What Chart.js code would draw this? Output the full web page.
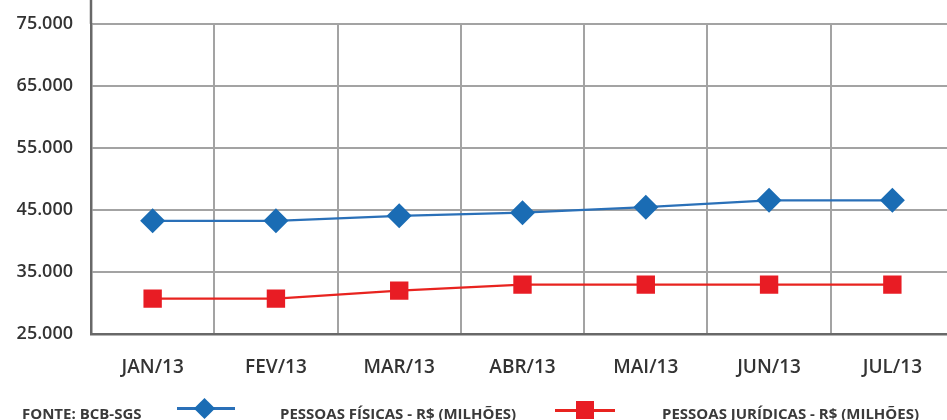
<!DOCTYPE html>
<html>
<head>
<meta charset="utf-8">
<script src="https://cdn.jsdelivr.net/npm/chart.js@4/dist/chart.umd.min.js"></script>
<style>
  html, body { margin: 0; padding: 0; background: #fff; overflow: hidden; width: 947px; height: 420px; }
  #wrap { position: absolute; left: 0; top: -5px; width: 967px; height: 425px; }
  .leg { position: absolute; top: 403px; line-height: 20px; font-family: 'Open Sans', sans-serif; font-weight: 700; font-size: 15px; color: #3a3a3a; white-space: nowrap; }
  .ln { position: absolute; height: 3px; }
  .mk { position: absolute; }
</style>
</head>
<body>
<div id="wrap"><canvas id="c" width="967" height="425"></canvas></div>

<span class="leg" id="fonte" style="left:22px"></span>
<div class="ln" style="left:177px; top:407px; width:58px; background:#2a70b8"></div>
<div class="mk" style="left:197px; top:401px; width:15px; height:15px; background:#1a6cb4; transform:rotate(45deg)"></div>
<span class="leg" id="leg0" style="left:280px"></span>
<div class="ln" style="left:555px; top:409px; width:60px; background:#e8231f"></div>
<div class="mk" style="left:576px; top:401px; width:18px; height:18px; background:#e81c24"></div>
<span class="leg" id="leg1" style="left:662px"></span>

<script>
// Monthly credit balances, R$ millions
const categories = ['JAN/13', 'FEV/13', 'MAR/13', 'ABR/13', 'MAI/13', 'JUN/13', 'JUL/13'];
const pessoasFisicas = [43250, 43250, 44050, 44550, 45450, 46550, 46550];
const pessoasJuridicas = [30700, 30700, 32000, 32950, 32950, 32950, 32950];
const yTickValues = [25000, 35000, 45000, 55000, 65000, 75000];
const yTickLabels = ['25.000', '35.000', '45.000', '55.000', '65.000', '75.000'];
const seriesLabels = ['PESSOAS FÍSICAS - R$ (MILHÕES)', 'PESSOAS JURÍDICAS - R$ (MILHÕES)'];
const sourceNote = 'FONTE: BCB-SGS';

document.getElementById('fonte').textContent = sourceNote;
document.getElementById('leg0').textContent = seriesLabels[0];
document.getElementById('leg1').textContent = seriesLabels[1];

// y axis line continues above the plot area
const axisExtension = {
  id: 'axisExtension',
  afterDraw(chart) {
    const ctx = chart.ctx, a = chart.chartArea;
    ctx.save();
    ctx.strokeStyle = '#686868';
    ctx.lineWidth = 2.5;
    ctx.beginPath();
    ctx.moveTo(a.left, 0);
    ctx.lineTo(a.left, a.top);
    ctx.stroke();
    ctx.restore();
  }
};

new Chart(document.getElementById('c'), {
  type: 'line',
  data: {
    labels: categories,
    datasets: [
      {
        label: seriesLabels[0],
        data: pessoasFisicas,
        borderColor: '#2a70b8',
        backgroundColor: '#1a6cb4',
        borderWidth: 2.2,
        pointStyle: 'rectRot',
        pointRadius: 12.5,
        pointBorderWidth: 0,
        pointBackgroundColor: '#1a6cb4',
        tension: 0
      },
      {
        label: seriesLabels[1],
        data: pessoasJuridicas,
        borderColor: '#e8231f',
        backgroundColor: '#e81c24',
        borderWidth: 2.2,
        pointStyle: 'rect',
        pointRadius: 13,
        pointBorderWidth: 0,
        pointBackgroundColor: '#e81c24',
        tension: 0
      }
    ]
  },
  options: {
    responsive: false,
    animation: false,
    layout: { padding: { top: 17, right: 0, left: 0, bottom: 0 } },
    plugins: { legend: { display: false }, tooltip: { enabled: false }, title: { display: false } },
    scales: {
      x: {
        offset: true,
        grid: { offset: true, color: '#a3a3a3', lineWidth: 2, drawTicks: false },
        border: { color: '#686868', width: 2.5 },
        ticks: {
          padding: 22,
          color: '#333',
          font: { family: "'Open Sans'", weight: '600', size: 19 }
        },
        afterFit(scale) { scale.height = 86; }
      },
      y: {
        min: 25000,
        max: 75000,
        grid: { color: '#a3a3a3', lineWidth: 2, drawTicks: false },
        border: { color: '#686868', width: 2.5 },
        afterBuildTicks(scale) { scale.ticks = yTickValues.map(v => ({ value: v })); },
        ticks: {
          padding: 18,
          color: '#333',
          font: { family: "'Open Sans'", weight: '600', size: 18 },
          callback(value) { return yTickLabels[yTickValues.indexOf(value)]; }
        },
        afterFit(scale) { scale.width = 91; }
      }
    }
  },
  plugins: [axisExtension]
});
</script>
</body>
</html>
